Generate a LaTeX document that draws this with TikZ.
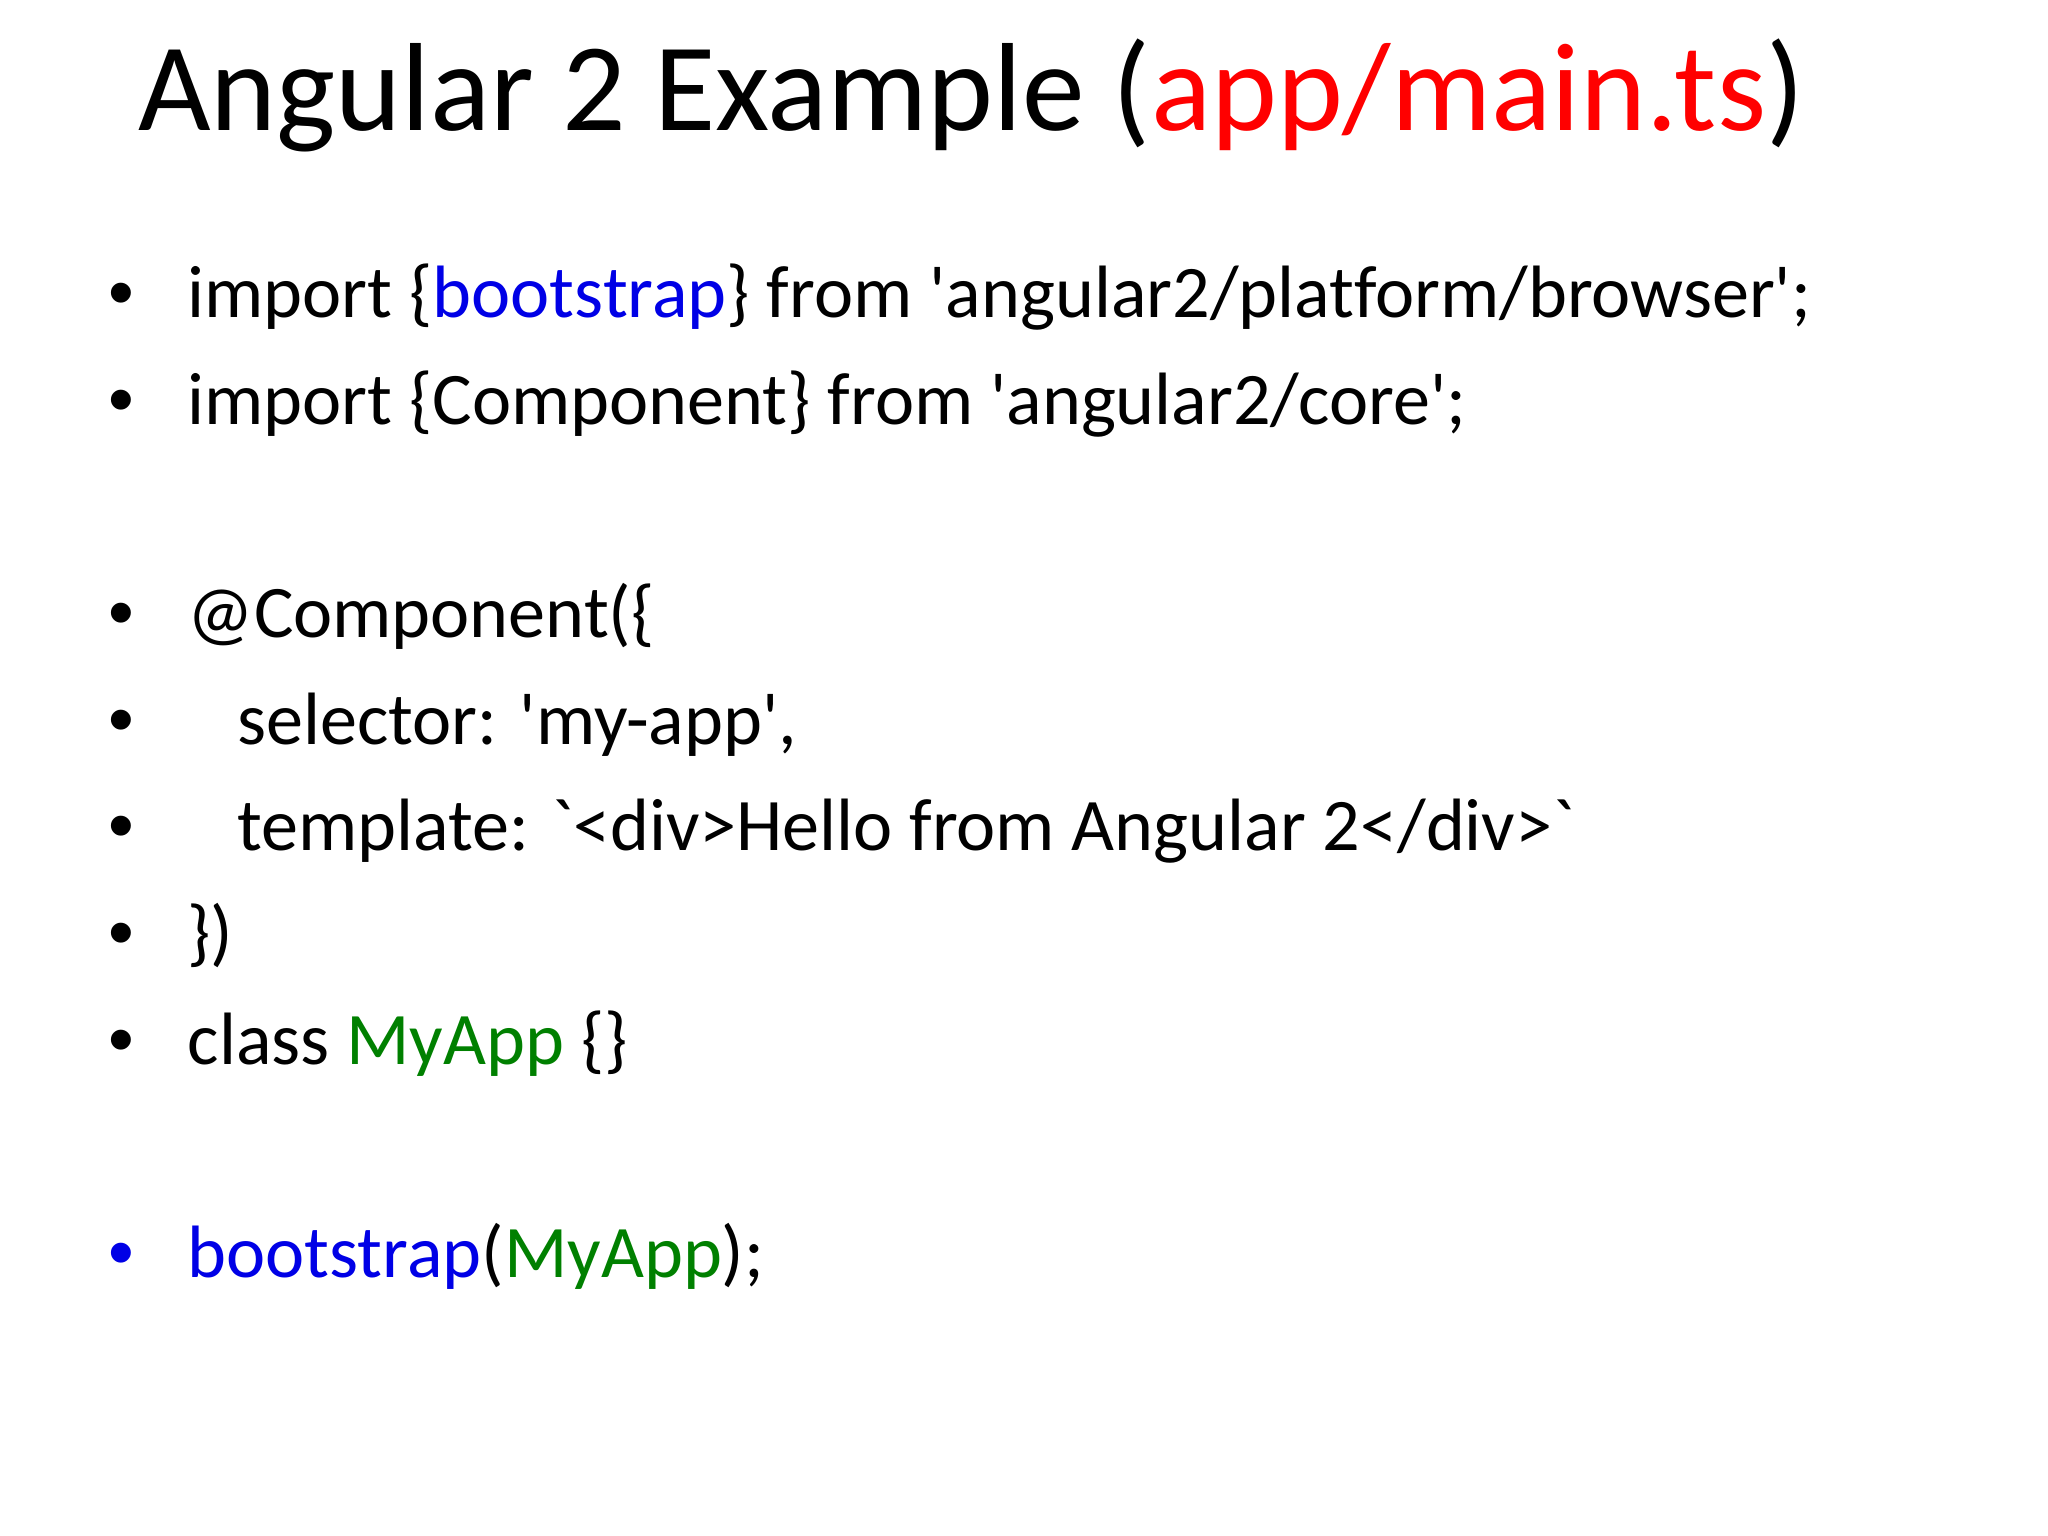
\documentclass[tikz,border=0pt]{standalone}
\usepackage{fontspec}
\newfontfamily\cf[Ligatures=NoCommon]{Carlito}
\newfontfamily\bulfont{Liberation Sans}
\definecolor{kblue}{RGB}{0,0,230}
\definecolor{kgreen}{RGB}{0,128,0}
\definecolor{kred}{RGB}{255,0,0}
\begin{document}
\begin{tikzpicture}[x=0.01cm,y=-0.01cm,
  ttl/.style={anchor=base west,inner sep=0pt,font=\cf\fontsize{27.3}{30}\selectfont},
  ln/.style={anchor=base west,inner sep=0pt,font=\cf\fontsize{16.15}{20}\selectfont},
  bul/.style={anchor=base,inner sep=0pt,font=\bulfont\fontsize{16}{20}\selectfont}]
\useasboundingbox[fill=white] (0,0) rectangle (1568,1176);
\node[ttl] (title) at (105,100) {Angular 2 Example (\textcolor{kred}{app/main.ts})};
\foreach \y/\n in {243/1,325/2,488/3,570/4,651/5,733/6,815/7}
  \node[bul] (b\n) at (93,\y) {•};
\node[bul,text=kblue] (b8) at (93,978) {•};
\node[ln] (l1) at (143,243) {import \{\textcolor{kblue}{bootstrap}\} from 'angular2/platform/browser';};
\node[ln] (l2) at (143,325) {import \{Component\} from 'angular2/core';};
\node[ln] (l3) at (143,488) {@Component(\{};
\node[ln] (l4) at (181,570) {selector: 'my-app',};
\node[ln] (l5) at (181,651) {template: \char96<div>Hello from Angular 2</div>\char96};
\node[ln] (l6) at (143,733) {\})};
\node[ln] (l7) at (143,815) {class \textcolor{kgreen}{MyApp} \{\}};
\node[ln] (l8) at (143,978) {\textcolor{kblue}{bootstrap}(\textcolor{kgreen}{MyApp});};
\end{tikzpicture}
\end{document}
